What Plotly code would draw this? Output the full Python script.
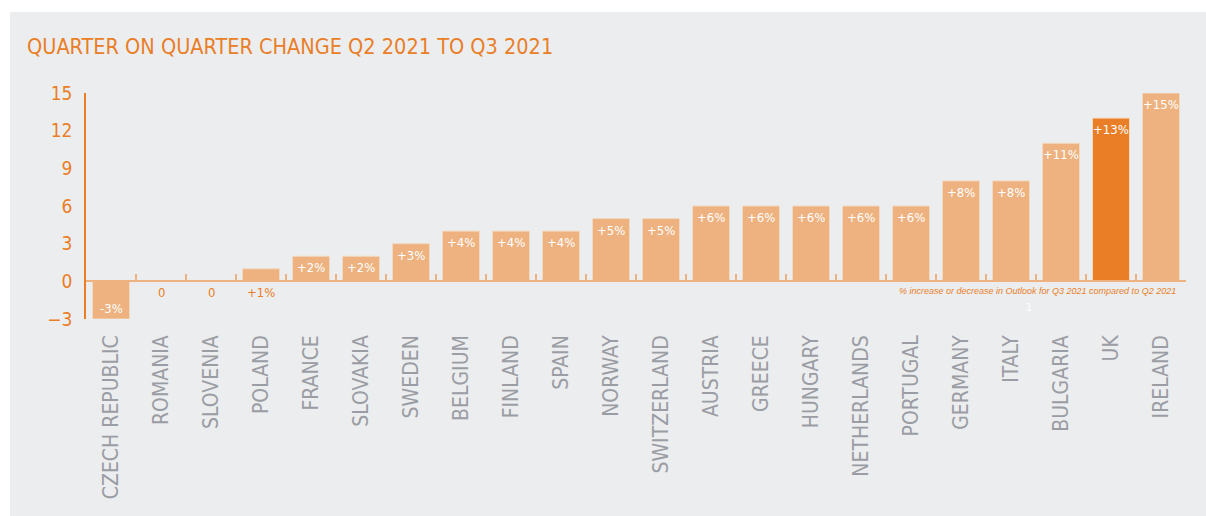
import plotly.graph_objects as go

countries = ["CZECH REPUBLIC", "ROMANIA", "SLOVENIA", "POLAND", "FRANCE", "SLOVAKIA",
             "SWEDEN", "BELGIUM", "FINLAND", "SPAIN", "NORWAY", "SWITZERLAND",
             "AUSTRIA", "GREECE", "HUNGARY", "NETHERLANDS", "PORTUGAL", "GERMANY",
             "ITALY", "BULGARIA", "UK", "IRELAND"]
values = [-3, 0, 0, 1, 2, 2, 3, 4, 4, 4, 5, 5, 6, 6, 6, 6, 6, 8, 8, 11, 13, 15]
highlight = "UK"
y_ticks = [-3, 0, 3, 6, 9, 12, 15]

title = "QUARTER ON QUARTER CHANGE Q2 2021 TO Q3 2021"
footnote = "% increase or decrease in Outlook for Q3 2021 compared to Q2 2021"

FONT = "DejaVu Sans Condensed, Liberation Sans Narrow, Roboto, sans-serif"
ORANGE = "#E97E27"
LIGHT = "#EDB27F"
BG = "#ECEDEF"
GREY_TXT = "#9B9DA4"

def fmt(v):
    if v > 0:
        return f"+{v}%"
    if v < 0:
        return f"{v}%"
    return "0"

x = list(range(len(countries)))
colors = [ORANGE if c == highlight else LIGHT for c in countries]

fig = go.Figure()
fig.add_trace(go.Bar(
    x=x, y=values, width=0.74,
    marker=dict(color=colors, line=dict(color="#F3D9C2", width=1)),
    cliponaxis=False, hoverinfo="skip",
))

annotations = []
for xi, v in zip(x, values):
    if v >= 2:
        annotations.append(dict(x=xi, y=v, xref="x", yref="y", text=fmt(v), showarrow=False,
                                yanchor="top", yshift=-2,
                                font=dict(color="white", size=13, family=FONT)))
    elif v < 0:
        annotations.append(dict(x=xi, y=v, xref="x", yref="y", text=fmt(v), showarrow=False,
                                yanchor="bottom", yshift=1,
                                font=dict(color="white", size=13, family=FONT)))
    else:
        annotations.append(dict(x=xi, y=0, xref="x", yref="y", text=fmt(v), showarrow=False,
                                yanchor="top", yshift=-2,
                                font=dict(color=ORANGE, size=13, family=FONT)))

annotations.append(dict(x=len(countries) - 0.66, y=0, xref="x", yref="y",
                        xanchor="right", yanchor="top", yshift=-3, showarrow=False,
                        text="<i>" + footnote + "</i>",
                        font=dict(color=ORANGE, size=9, family="Liberation Sans, Arial, sans-serif")))
annotations.append(dict(x=(1033 - 86) / 1100, y=(319 - 300) / 226, xref="paper", yref="paper",
                        yanchor="top", showarrow=False, text="1", borderpad=0,
                        font=dict(color="white", size=11, family=FONT)))
annotations.append(dict(x=(25 - 86) / 1100, y=(319 - 47) / 226, xref="paper", yref="paper",
                        xanchor="left", yanchor="middle",
                        showarrow=False, text=title,
                        font=dict(color=ORANGE, size=21.5, family=FONT)))

fig.update_layout(
    width=1206, height=516,
    margin=dict(l=86, r=20, t=93, b=197),
    paper_bgcolor="white", plot_bgcolor="rgba(0,0,0,0)",
    showlegend=False,
    annotations=annotations,
    shapes=[dict(type="rect", xref="paper", yref="paper",
                 x0=(10 - 86) / 1100, x1=(1210 - 86) / 1100,
                 y0=(319 - 520) / 226, y1=(319 - 12) / 226,
                 fillcolor=BG, line=dict(width=0), layer="below")],
    xaxis=dict(range=[-0.5, len(countries) - 0.5], tickvals=x, ticktext=countries,
               tickangle=-90, tickfont=dict(color=GREY_TXT, size=21, family=FONT),
               ticklabelstandoff=11,
               showgrid=False, zeroline=False, showline=False, ticks="", fixedrange=True),
    xaxis2=dict(overlaying="x", matches="x", anchor="free", position=3 / 18,
                range=[-0.5, len(countries) - 0.5],
                tickvals=[i + 0.5 for i in x], ticks="inside", ticklen=6, tickcolor=LIGHT,
                tickwidth=1.5, showticklabels=False, showline=True, linecolor=LIGHT,
                linewidth=2, showgrid=False, zeroline=False),
    yaxis=dict(range=[-3, 15], tickvals=y_ticks, ticks="", showgrid=False, zeroline=False,
               showline=True, linecolor=ORANGE, linewidth=1.5,
               tickfont=dict(color=ORANGE, size=19, family=FONT), ticklabelstandoff=8),
    font=dict(family=FONT),
)
fig.add_trace(go.Scatter(x=[None], y=[None], xaxis="x2", showlegend=False, hoverinfo="skip"))

fig.write_html("out.html")
